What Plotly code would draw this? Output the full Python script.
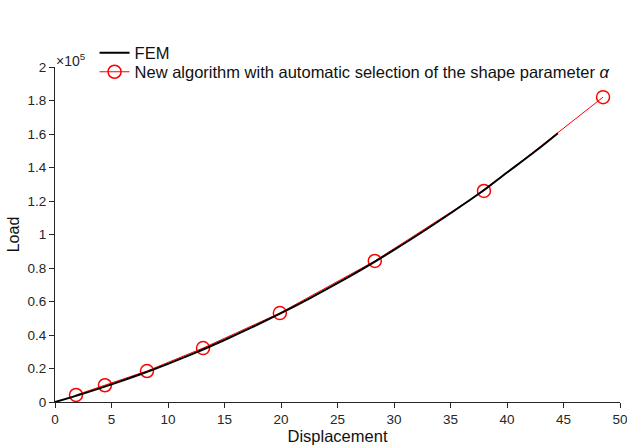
import plotly.graph_objects as go

# FEM reference curve
fem_x = [0, 2.5, 5, 7.5, 10, 12.5, 15, 17.5, 20, 22.5, 25, 27.5, 30, 32.5, 35, 37.5, 40, 42.5, 44.5]
fem_y = [0, 5000, 10500, 16400, 22800, 29600, 37000, 44800, 53000, 61700, 70900, 80500, 90800, 101500, 112700, 124300, 137000, 149700, 160500]

# New algorithm (markers)
alg_x = [1.86, 4.42, 8.14, 13.1, 19.9, 28.3, 37.96, 48.5]
alg_y = [4200, 10000, 18500, 32200, 53100, 84200, 126000, 182000]

y_tickvals = [0, 20000, 40000, 60000, 80000, 100000, 120000, 140000, 160000, 180000, 200000]
y_ticktext = ["0", "0.2", "0.4", "0.6", "0.8", "1", "1.2", "1.4", "1.6", "1.8", "2"]
x_tickvals = [0, 5, 10, 15, 20, 25, 30, 35, 40, 45, 50]

font_family = "Liberation Sans, Arial, Helvetica, sans-serif"
axis_col = "#262626"

fig = go.Figure()
# red line/markers drawn first so the FEM black line covers it
fig.add_trace(go.Scatter(
    x=alg_x, y=alg_y, mode="lines+markers",
    name='New algorithm with automatic selection of the shape parameter <i>α</i>',
    line=dict(color="red", width=1),
    marker=dict(symbol="circle-open", size=13, color="red", line=dict(width=1.5, color="red")),
    legend="legend2",
))
fig.add_trace(go.Scatter(
    x=fem_x, y=fem_y, mode="lines", name="FEM",
    line=dict(color="black", width=2, shape="spline"),
    legend="legend",
))

leg_common = dict(xanchor="left", yanchor="middle", bgcolor="rgba(0,0,0,0)",
                  borderwidth=0, font=dict(size=16.5, color="#111"))

fig.update_layout(
    width=627, height=448,
    margin=dict(l=55, r=7, t=67, b=46),
    paper_bgcolor="white", plot_bgcolor="white",
    font=dict(family=font_family, size=13.5, color=axis_col),
    showlegend=True,
    legend=dict(x=0.07, y=1.042, **leg_common),
    legend2=dict(x=0.07, y=0.985, **leg_common),
    xaxis=dict(
        range=[0, 50], tickvals=x_tickvals, ticks="outside", ticklen=5,
        tickcolor=axis_col, linecolor=axis_col, linewidth=1, showline=True,
        showgrid=False, zeroline=False, mirror=False, automargin=False,
        title=dict(text="Displacement", font=dict(size=16.5, color="#111"), standoff=2),
        tickfont=dict(size=13.5), ticklabeloverflow="allow",
    ),
    yaxis=dict(
        range=[0, 200000], tickvals=y_tickvals, ticktext=y_ticktext,
        ticks="outside", ticklen=5, tickcolor=axis_col, linecolor=axis_col,
        linewidth=1, showline=True, showgrid=False, zeroline=False, mirror=False,
        automargin=False,
        title=dict(text="Load", font=dict(size=16, color="#111"), standoff=3),
        tickfont=dict(size=13.5),
    ),
    annotations=[dict(
        x=0, y=1.0, xref="paper", yref="paper", xanchor="left", yanchor="bottom",
        text="×10<sup>5</sup>", showarrow=False, font=dict(size=14, color=axis_col),
        xshift=-1, yshift=-4,
    )],
)

fig.write_html("out.html")
